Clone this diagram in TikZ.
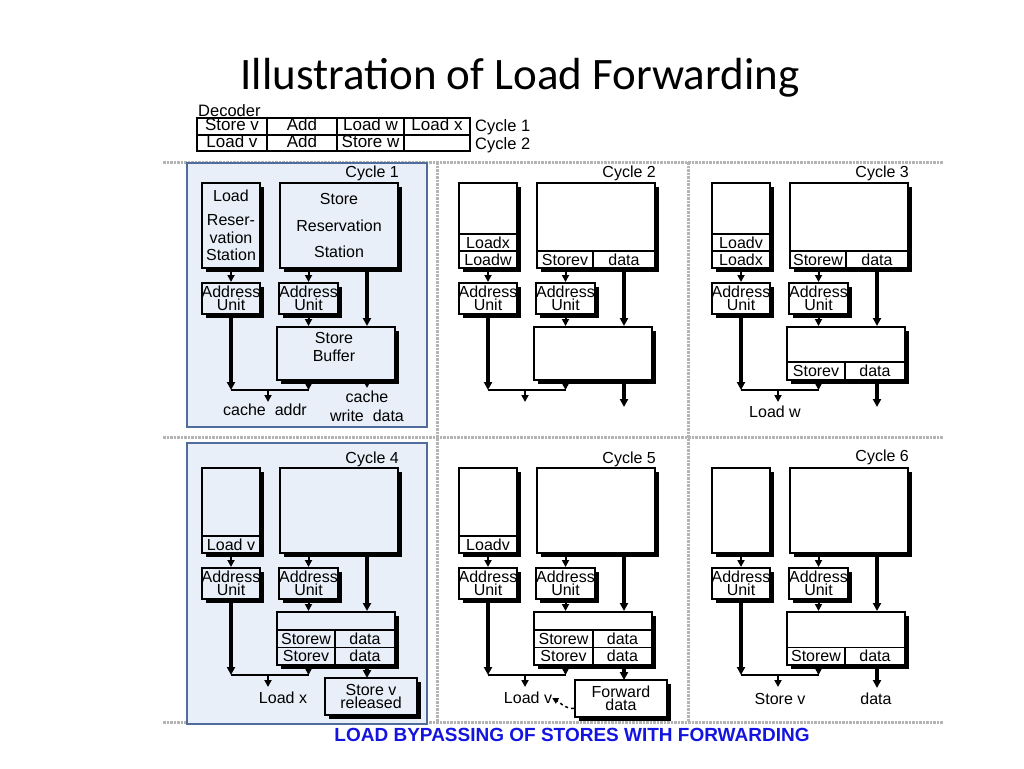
\documentclass[tikz,border=0pt]{standalone}
\usepackage{fontspec}
\setmainfont{Liberation Sans}
\newfontfamily\titlefont{Carlito}
\usetikzlibrary{arrows.meta,shadows}
\definecolor{pblue}{RGB}{233,239,248}
\definecolor{pborder}{RGB}{79,108,155}
\definecolor{capblue}{RGB}{20,20,225}
\definecolor{divgray}{RGB}{180,180,180}
\tikzset{
 box/.style={draw, line width=2pt, inner sep=0pt, align=center,
   drop shadow={shadow xshift=4pt, shadow yshift=-4pt, fill=black, opacity=1}},
 cell/.style={draw, line width=1.5pt, inner sep=0pt, minimum height=17pt, font=\fontsize{16}{16}\selectfont},
 dtab/.style={draw, line width=2pt, inner sep=0pt, text height=11.5pt, text depth=3pt, font=\fontsize{17}{17}\selectfont},
 txt/.style={inner sep=0pt, font=\fontsize{16}{16}\selectfont, align=center},
 thickarr/.style={line width=3.5pt, -{Triangle[length=8pt,width=8pt]}},
 thinarr/.style={line width=2pt, -{Triangle[length=7pt,width=7pt]}},
 busline/.style={line width=2.5pt},
 divider/.style={draw=divgray, line width=3pt, dash pattern=on 2.5pt off 1pt},
 panelbg/.style={fill=pblue, draw=pborder, line width=2.5pt},
}
% #1 prefix, #2 fill, #3 LRS text, #4 SRS text, #5 data arrow end y, #6 cycle label, #7 y of cycle label
\newcommand\panelbase[7]{%
 \node[box, fill=#2, minimum width=58pt, minimum height=85pt, font=\fontsize{16}{17.5}\selectfont] (#1lrs) at (29,42.5) {#3};
 \node[box, fill=#2, minimum width=118pt, minimum height=85pt, font=\fontsize{16}{26.5}\selectfont] (#1srs) at (137,42.5) {#4};
 \node[box, fill=#2, minimum width=58pt, minimum height=31pt, font=\fontsize{16}{13}\selectfont] (#1au1) at (29,115.5) {Address\\Unit};
 \node[box, fill=#2, minimum width=57pt, minimum height=31pt, font=\fontsize{16}{13}\selectfont] (#1au2) at (106.5,115.5) {Address\\Unit};
 \node[box, fill=#2, minimum width=118pt, minimum height=53pt] (#1sb) at (134,170.5) {};
 \node[txt, anchor=east] (#1cyc) at (197,#7) {#6};
 \coordinate (#1L) at (29,207);
 \coordinate (#1R) at (106.5,207);
 \coordinate (#1M) at (66,207);
 \coordinate (#1Mend) at (66,219);
 \coordinate (#1dx) at (165,0);
 \coordinate (#1D) at (165,#5);
 \draw[thinarr] (#1lrs) -- (#1au1);
 \draw[thinarr] (#1srs.south -| #1au2) -- (#1au2);
 \draw[thickarr] (#1srs.south -| #1dx) -- (#1sb.north -| #1dx);
 \draw[thinarr] (#1au2) -- (#1sb.north -| #1au2);
 \draw[thickarr] (#1au1) -- (#1L);
 \draw[busline] (#1L) -- (#1R);
 \draw[thinarr] (#1sb.south -| #1R) -- (#1R);
 \draw[thinarr] (#1M) -- (#1Mend);
 \draw[thickarr] (#1sb.south -| #1dx) -- (#1D);
}
\begin{document}
\begin{tikzpicture}[x=1pt,y=-1pt]
\useasboundingbox (0,0) rectangle (1024,768);
\fill[white] (0,0) rectangle (1024,768);

% title
\node[font=\titlefont\fontsize{45}{45}\selectfont, inner sep=0pt] (title) at (520,78) {Illustration of Load Forwarding};

% decoder table
\node[txt, anchor=west, font=\fontsize{16.5}{16.5}\selectfont] (dec) at (198,111) {Decoder};
\node[dtab, minimum width=70pt, minimum height=17pt] (d11) at (232,126.5) {Store v};
\node[dtab, minimum width=70pt, minimum height=17pt] (d12) at (302,126.5) {Add};
\node[dtab, minimum width=67pt, minimum height=17pt] (d13) at (370.5,126.5) {Load w};
\node[dtab, minimum width=66pt, minimum height=17pt] (d14) at (437,126.5) {Load x};
\node[dtab, minimum width=70pt, minimum height=16pt] (d21) at (232,143) {Load v};
\node[dtab, minimum width=70pt, minimum height=16pt] (d22) at (302,143) {Add};
\node[dtab, minimum width=67pt, minimum height=16pt] (d23) at (370.5,143) {Store w};
\node[dtab, minimum width=66pt, minimum height=16pt] (d24) at (437,143) {};
\node[txt, anchor=west, font=\fontsize{16.5}{16.5}\selectfont] (dc1) at (475,127) {Cycle 1};
\node[txt, anchor=west, font=\fontsize{16.5}{16.5}\selectfont] (dc2) at (475,145) {Cycle 2};

% dividers
\draw[divider] (163,162) -- (943,162);
\draw[divider] (163,437) -- (943,437);
\draw[divider] (163,722) -- (943,722);
\draw[divider] (437,162) -- (437,722);
\draw[divider] (688,162) -- (688,722);

% highlighted panels
\draw[panelbg] (187,163) rectangle (427,427);
\draw[panelbg] (187,443) rectangle (427,724);

% ---------- Cycle 1 ----------
\begin{scope}[shift={(202,183)}]
\panelbase{p1}{pblue}{Load\\[7pt]Reser-\\vation\\Station}{Store\\Reservation\\Station}{205}{Cycle 1}{-10}
\node[txt, font=\fontsize{16}{18}\selectfont] (p1sbt) at (132,164) {Store\\Buffer};
\node[txt] (p1ca) at (63,227) {cache\ \ addr};
\node[txt, font=\fontsize{16}{19}\selectfont] (p1cw) at (165,223.5) {cache\\write\ \ data};
\end{scope}

% ---------- Cycle 2 ----------
\begin{scope}[shift={(459,183)}]
\panelbase{p2}{white}{}{}{224}{Cycle 2}{-10}
\node[cell, minimum width=58pt] (p2lx) at (29,59.5) {Loadx};
\node[cell, minimum width=58pt] (p2lw) at (29,76.5) {Loadw};
\node[cell, minimum width=56pt] (p2sv) at (106,76.5) {Storev};
\node[cell, minimum width=62pt] (p2sd) at (165,76.5) {data};
\end{scope}

% ---------- Cycle 3 ----------
\begin{scope}[shift={(712,183)}]
\panelbase{p3}{white}{}{}{224}{Cycle 3}{-10}
\node[cell, minimum width=58pt] (p3lv) at (29,59.5) {Loadv};
\node[cell, minimum width=58pt] (p3lx) at (29,76.5) {Loadx};
\node[cell, minimum width=56pt] (p3sw) at (106,76.5) {Storew};
\node[cell, minimum width=62pt] (p3sd) at (165,76.5) {data};
\node[cell, minimum width=58pt, minimum height=18pt] (p3bv) at (104,188) {Storev};
\node[cell, minimum width=60pt, minimum height=18pt] (p3bd) at (163,188) {data};
\node[txt] (p3lw) at (63,229) {Load w};
\end{scope}

% ---------- Cycle 4 ----------
\begin{scope}[shift={(202,468)}]
\panelbase{p4}{pblue}{}{}{210}{Cycle 4}{-9}
\node[cell, minimum width=58pt] (p4lv) at (29,76.5) {Load v};
\node[cell, minimum width=58pt, minimum height=17.5pt] (p4bw) at (104,170.75) {Storew};
\node[cell, minimum width=60pt, minimum height=17.5pt] (p4bwd) at (163,170.75) {data};
\node[cell, minimum width=58pt, minimum height=17.5pt] (p4bv) at (104,188.25) {Storev};
\node[cell, minimum width=60pt, minimum height=17.5pt] (p4bvd) at (163,188.25) {data};
\node[box, fill=pblue, minimum width=92pt, minimum height=37pt, font=\fontsize{16}{13}\selectfont] (p4rel) at (169,228.5) {Store v\\released};
\node[txt] (p4lx) at (81,230) {Load x};
\end{scope}

% ---------- Cycle 5 ----------
\begin{scope}[shift={(459,468)}]
\panelbase{p5}{white}{}{}{212}{Cycle 5}{-9}
\node[cell, minimum width=58pt] (p5lvc) at (29,76.5) {Loadv};
\node[cell, minimum width=59pt, minimum height=17.5pt] (p5bw) at (104.5,170.75) {Storew};
\node[cell, minimum width=59pt, minimum height=17.5pt] (p5bwd) at (163.5,170.75) {data};
\node[cell, minimum width=59pt, minimum height=17.5pt] (p5bv) at (104.5,188.25) {Storev};
\node[cell, minimum width=59pt, minimum height=17.5pt] (p5bvd) at (163.5,188.25) {data};
\node[box, fill=white, minimum width=92pt, minimum height=37pt, font=\fontsize{16}{13}\selectfont] (p5fwd) at (162,230.5) {Forward\\data};
\node[txt] (p5lv) at (69,230) {Load v};
\draw[dashed, line width=1.5pt, -{Triangle[length=6pt,width=6pt]}] ([yshift=-10pt]p5fwd.west) to[out=180,in=-30] (p5lv.east);
\end{scope}

% ---------- Cycle 6 ----------
\begin{scope}[shift={(712,468)}]
\panelbase{p6}{white}{}{}{220}{Cycle 6}{-11}
\node[cell, minimum width=58pt, minimum height=17.5pt] (p6bw) at (104,188.25) {Storew};
\node[cell, minimum width=60pt, minimum height=17.5pt] (p6bd) at (163,188.25) {data};
\node[txt] (p6sv) at (68,231) {Store v};
\node[txt] (p6d) at (164,231) {data};
\end{scope}

% caption
\node[font=\bfseries\fontsize{19}{19}\selectfont, text=capblue, inner sep=0pt] (cap) at (572,735) {LOAD BYPASSING OF STORES WITH FORWARDING};
\end{tikzpicture}
\end{document}
